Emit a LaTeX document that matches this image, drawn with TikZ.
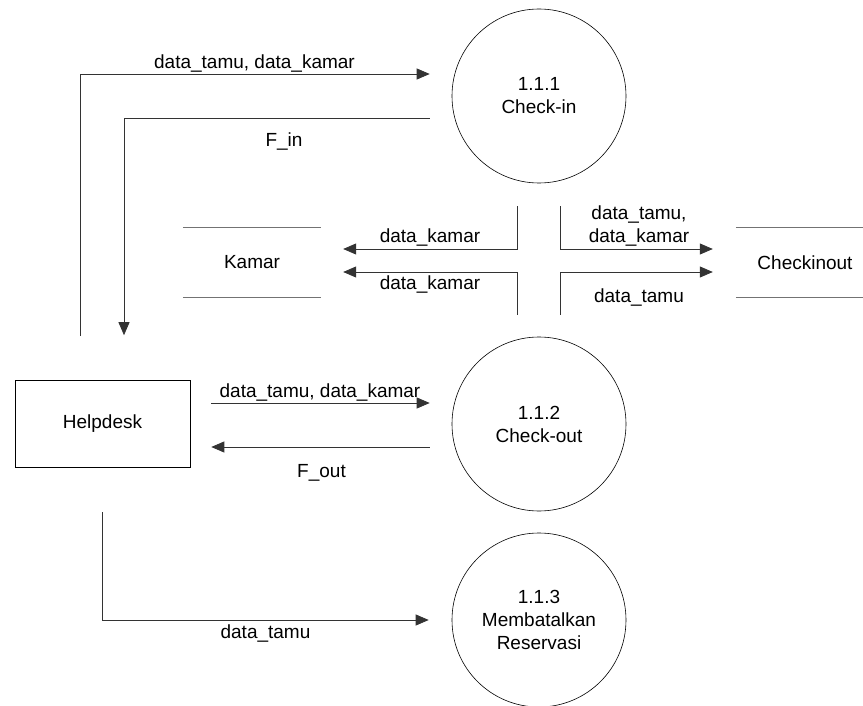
\documentclass[tikz,border=0pt]{standalone}
\usepackage{fontspec}
\setmainfont{Liberation Sans}
\usetikzlibrary{arrows.meta}
\tikzset{
  proc/.style={draw, circle, line width=0.6pt, minimum size=174pt, inner sep=0pt, align=center},
  ent/.style={draw, line width=0.6pt, minimum width=175pt, minimum height=87pt},
  storebox/.style={minimum width=138pt, minimum height=69pt},
  storeline/.style={draw=black!55, line width=1pt},
  flow/.style={draw=black!80, line width=0.8pt, -{Triangle[length=13pt,width=11pt]}},
  lbl/.style={anchor=base, inner sep=0pt, align=center},
}
\begin{document}
\begin{tikzpicture}[x=1pt, y=-1pt, font=\fontsize{19}{23}\selectfont]
		\useasboundingbox (0,0) rectangle (863,706);

		% Proses
		\node[proc] (cin) at (539,96) {1.1.1\\Check-in};
		\node[proc] (cout) at (539,424) {1.1.2\\Check-out};
		\node[proc] (batal) at (539,620) {1.1.3\\Membatalkan\\Reservasi};

		% Entitas
		\node[ent] (hd) at (102.5,424) {Helpdesk};

		% Data store
		\node[storebox] (km) at (252,262.5) {Kamar};
		\draw[storeline] (km.north west) -- (km.north east);
		\draw[storeline] (km.south west) -- (km.south east);
		\node[storebox] (cko) at (805,262.5) {Checkinout};
		\draw[storeline] (cko.north west) -- (cko.north east);
		\draw[storeline] (cko.south west) -- (cko.south east);

		% Helpdesk <-> Check-in
		\draw[flow, shorten <=44pt, shorten >=22pt] ([xshift=-22.5pt]hd.north) |- ([yshift=22pt]cin.west);
		\draw[flow, shorten <=22pt, shorten >=45pt] ([yshift=-22pt]cin.west) -| ([xshift=21.5pt]hd.north);
		\node[lbl] (l1) at (254.5,69) {data\_tamu, data\_kamar};
		\node[lbl] (l2) at (284,147) {F\_in};

		% Check-in / Check-out -> Kamar, Checkinout
		\draw[flow, shorten <=23pt, shorten >=22pt] ([xshift=-22pt]cin.south) |- ([yshift=13.5pt]km.east);
		\draw[flow, shorten <=22pt, shorten >=22pt] ([xshift=-22pt]cout.north) |- ([yshift=-9.5pt]km.east);
		\draw[flow, shorten <=23pt, shorten >=23pt] ([xshift=21pt]cin.south) |- ([yshift=13.5pt]cko.west);
		\draw[flow, shorten <=22pt, shorten >=23pt] ([xshift=21pt]cout.north) |- ([yshift=-9.5pt]cko.west);
		\node[lbl] (l3) at (430,243) {data\_kamar};
		\node[lbl] (l4) at (430,289) {data\_kamar};
		\node[lbl] (l5) at (639,243) {data\_tamu,\\data\_kamar};
		\node[lbl] (l6) at (639,302) {data\_tamu};

		% Helpdesk <-> Check-out
		\draw[flow, shorten <=21pt, shorten >=22pt] ([yshift=21pt]hd.east) -- ([yshift=21pt]cout.west);
		\draw[flow, shorten <=22pt, shorten >=21pt] ([yshift=-23pt]cout.west) -- ([yshift=-23pt]hd.east);
		\node[lbl] (l7) at (320,397) {data\_tamu, data\_kamar};
		\node[lbl] (l8) at (321.5,477) {F\_out};

		% Helpdesk -> Membatalkan Reservasi
		\draw[flow, shorten <=44.5pt, shorten >=23pt] (hd.south) |- (batal.west);
		\node[lbl] (l9) at (265.5,638) {data\_tamu};
	\end{tikzpicture}
\end{document}
